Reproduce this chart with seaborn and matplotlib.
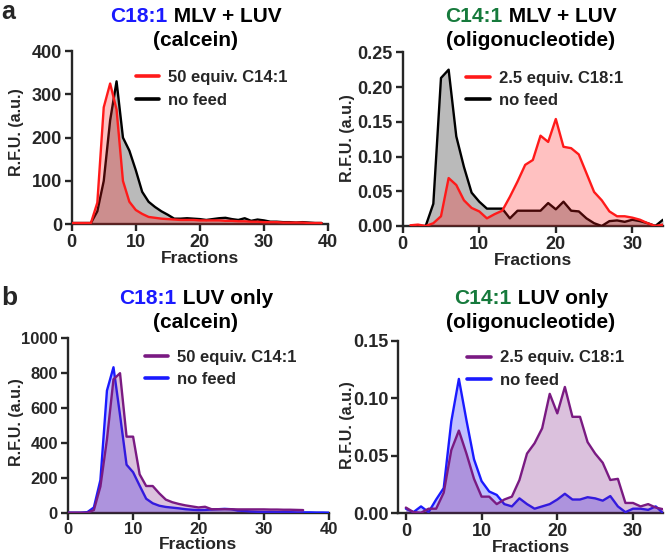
import numpy as np
import pandas as pd
import matplotlib
matplotlib.use("Agg")
import matplotlib.pyplot as plt
import seaborn as sns

# ---------------- data ----------------
# Panel a (left): C18:1 MLV + LUV (calcein)
a1_frac = list(range(0, 40))
a1_nofeed = [3, 3, 3, 3, 30, 100, 240, 330, 200, 170, 125, 75, 52, 40, 30, 22, 13, 13, 14, 13,
             12, 10, 12, 14, 15, 12, 10, 14, 8, 11, 9, 6, 6, 5, 5, 4, 5, 4, 3, 3]
a1_feed = [3, 3, 3, 3, 50, 270, 325, 265, 100, 52, 33, 24, 17, 15, 13, 12, 11, 10, 10, 10,
           9, 9, 9, 9, 8, 8, 7, 7, 6, 6, 5, 5, 5, 4, 4, 4, 4, 3, 3, 3]

# Panel a (right): C14:1 MLV + LUV (oligonucleotide)
a2_frac = list(range(1, 35))
a2_nofeed = [0.0, 0.0, 0.0, 0.032, 0.213, 0.225, 0.129, 0.085, 0.048, 0.035, 0.025, 0.025,
             0.025, 0.011, 0.022, 0.022, 0.022, 0.022, 0.033, 0.024, 0.035, 0.022, 0.021,
             0.011, 0.004, 0.0, 0.007, 0.008, 0.006, 0.009, 0.007, 0.004, 0.0, 0.009]
a2_feed = [0.001, 0.002, 0.0, 0.004, 0.014, 0.069, 0.059, 0.037, 0.026, 0.021, 0.011, 0.017,
           0.022, 0.042, 0.064, 0.088, 0.095, 0.130, 0.121, 0.154, 0.114, 0.112, 0.103,
           0.076, 0.049, 0.037, 0.021, 0.014, 0.014, 0.012, 0.009, 0.004, 0.0, 0.002]

# Panel b (left): C18:1 LUV only (calcein)
b1_frac_nofeed = list(range(0, 41))
b1_nofeed = [0, 0, 0, 3, 30, 187, 700, 834, 560, 275, 232, 155, 80, 54, 40, 33, 29, 25, 20, 17,
             15, 16, 18, 20, 22, 20, 12, 10, 7, 5, 4, 4, 3, 3, 3, 2, 2, 2, 1, 1, 0]
b1_frac_feed = list(range(0, 37))
b1_feed = [0, 0, 0, 0, 15, 150, 420, 765, 800, 436, 436, 220, 153, 153, 111, 75, 60, 50, 42, 36,
           30, 34, 20, 20, 20, 20, 19, 19, 19, 19, 19, 18, 18, 17, 17, 16, 15]

# Panel b (right): C14:1 LUV only (oligonucleotide)
b2_frac = list(range(0, 35))
b2_nofeed = [0.004, 0.001, 0.006, 0.001, 0.012, 0.022, 0.080, 0.117, 0.081, 0.047, 0.028, 0.019,
             0.016, 0.008, 0.006, 0.013, 0.008, 0.004, 0.006, 0.008, 0.012, 0.017, 0.012, 0.012,
             0.014, 0.013, 0.011, 0.015, 0.006, 0.001, 0.004, 0.004, 0.003, 0.006, 0.0]
b2_feed = [0.005, 0.001, 0.0005, 0.004, 0.004, 0.018, 0.055, 0.072, 0.052, 0.030, 0.0145, 0.0145,
           0.008, 0.012, 0.0145, 0.029, 0.052, 0.061, 0.074, 0.104, 0.087, 0.110, 0.084, 0.084,
           0.062, 0.052, 0.044, 0.029, 0.030, 0.009, 0.009, 0.006, 0.008, 0.005, 0.0035]

# ---------------- style ----------------
sns.set_style("ticks")
plt.rcParams['font.family'] = ['Liberation Sans', 'DejaVu Sans']
plt.rcParams['font.weight'] = 'bold'
plt.rcParams['axes.labelweight'] = 'bold'

RED = "#ff1a1a"
BLACK = "#000000"
BLUE = "#1a1aff"
PURPLE = "#7a1a82"
GREEN = "#167a3c"
TITLE_BLUE = "#1a1aff"

W, H = 666, 560
fig = plt.figure(figsize=(W / 100, H / 100), dpi=100)

def px_axes(l, r, t, b):
    ax = fig.add_axes([l / W, 1 - b / H, (r - l) / W, (b - t) / H])
    ax._px = (l, r, t, b)
    return ax

ax_a1 = px_axes(71.7, 328.0, 51.0, 224.3)
ax_a2 = px_axes(402.7, 663.0, 52.3, 226.0)
ax_b1 = px_axes(67.7, 329.3, 338.3, 512.7)
ax_b2 = px_axes(398.3, 663.3, 341.0, 513.3)

def draw_series(ax, x, y, color, alpha=0.27, z=2):
    df = pd.DataFrame({"Fractions": x, "RFU": y})
    ax.fill_between(df["Fractions"], df["RFU"], 0, color=color, alpha=alpha, lw=0, zorder=z)
    sns.lineplot(data=df, x="Fractions", y="RFU", ax=ax, color=color, lw=1.7, zorder=z + 1)

def style_axes(ax, xlim, ylim, xticks, yticks, yfmt, leg_xy, ylab_px, tick_fs=13):
    ax.set_xlim(*xlim)
    ax.set_ylim(*ylim)
    ax.set_xticks(xticks)
    ax.set_yticks(yticks)
    ax.set_yticklabels([yfmt.format(v) for v in yticks])
    ax.set_xlabel("Fractions", fontsize=12.5, fontweight='bold', labelpad=0)
    ax.set_ylabel("R.F.U. (a.u.)", fontsize=11.5, fontweight='bold')
    l, r, t, b = ax._px
    ax.yaxis.label.set_verticalalignment('center')
    ax.yaxis.set_label_coords((ylab_px[0] - l) / (r - l), (b - ylab_px[1]) / (b - t))
    for s in ["top", "right"]:
        ax.spines[s].set_visible(False)
    for s in ["left", "bottom"]:
        ax.spines[s].set_linewidth(1.7)
    ax.tick_params(axis='both', width=1.7, length=5, labelsize=tick_fs, pad=2)
    for lab in ax.get_xticklabels() + ax.get_yticklabels():
        lab.set_fontweight('bold')
    leg = ax.legend(loc='upper left', bbox_to_anchor=leg_xy, frameon=False, fontsize=12,
                    handlelength=1.4, handletextpad=0.55, borderaxespad=0, borderpad=0,
                    labelspacing=0.45)
    for t in leg.get_texts():
        t.set_fontweight('bold')
    for ln in leg.get_lines():
        ln.set_linewidth(2.6)

# Panel a left
draw_series(ax_a1, a1_frac, a1_nofeed, BLACK, z=2)
draw_series(ax_a1, a1_frac, a1_feed, RED, z=4)
ax_a1.plot([], [], color=RED, label="50 equiv. C14:1")
ax_a1.plot([], [], color=BLACK, label="no feed")
style_axes(ax_a1, (0, 40), (0, 400), [0, 10, 20, 30, 40], [0, 100, 200, 300, 400], "{:d}",
           (0.25, 0.89), (16.7, 132.5))

# Panel a right
draw_series(ax_a2, a2_frac, a2_nofeed, BLACK, z=2)
draw_series(ax_a2, a2_frac, a2_feed, RED, z=4)
ax_a2.plot([], [], color=RED, label="2.5 equiv. C18:1")
ax_a2.plot([], [], color=BLACK, label="no feed")
style_axes(ax_a2, (0, 34), (0, 0.25), [0, 10, 20, 30], [0, 0.05, 0.10, 0.15, 0.20, 0.25], "{:.2f}",
           (0.245, 0.895), (347.5, 138))

# Panel b left
draw_series(ax_b1, b1_frac_nofeed, b1_nofeed, BLUE, z=2)
draw_series(ax_b1, b1_frac_feed, b1_feed, PURPLE, z=4)
ax_b1.plot([], [], color=PURPLE, label="50 equiv. C14:1")
ax_b1.plot([], [], color=BLUE, label="no feed")
style_axes(ax_b1, (0, 40), (0, 1000), [0, 10, 20, 30, 40], [0, 200, 400, 600, 800, 1000], "{:d}",
           (0.295, 0.935), (16.7, 422.5), tick_fs=12)

# Panel b right
draw_series(ax_b2, b2_frac, b2_nofeed, BLUE, z=2)
draw_series(ax_b2, b2_frac, b2_feed, PURPLE, z=4)
ax_b2.plot([], [], color=PURPLE, label="2.5 equiv. C18:1")
ax_b2.plot([], [], color=BLUE, label="no feed")
style_axes(ax_b2, (-1, 34), (0, 0.15), [0, 10, 20, 30], [0, 0.05, 0.10, 0.15], "{:.2f}",
           (0.26, 0.945), (347.5, 425))

# ---------------- titles ----------------
fig.canvas.draw()
renderer = fig.canvas.get_renderer()

def colored_title(cx, y1, y2, colored, rest, color, line2):
    fs = 15
    t1 = fig.text(0, 1 - y1 / H, colored, color=color, fontsize=fs, fontweight='bold',
                  ha='left', va='center')
    t2 = fig.text(0, 1 - y1 / H, rest, color='black', fontsize=fs, fontweight='bold',
                  ha='left', va='center')
    w1 = t1.get_window_extent(renderer).width
    w2 = t2.get_window_extent(renderer).width
    x0 = cx - (w1 + w2) / 2
    t1.set_x(x0 / W)
    t2.set_x((x0 + w1) / W)
    fig.text(cx / W, 1 - y2 / H, line2, color='black', fontsize=fs, fontweight='bold',
             ha='center', va='center')

colored_title(196, 16, 40, "C18:1", " MLV + LUV", TITLE_BLUE, "(calcein)")
colored_title(531, 16, 40, "C14:1", " MLV + LUV", GREEN, "(oligonucleotide)")
colored_title(196, 298, 322, "C18:1", " LUV only", TITLE_BLUE, "(calcein)")
colored_title(531, 298, 322, "C14:1", " LUV only", GREEN, "(oligonucleotide)")

fig.text(1 / W, 1 - 19 / H, "a", fontsize=18, fontweight='bold', ha='left', va='baseline')
fig.text(1 / W, 1 - 305 / H, "b", fontsize=19, fontweight='bold', ha='left', va='baseline')

fig.savefig("out.png", dpi=100)
